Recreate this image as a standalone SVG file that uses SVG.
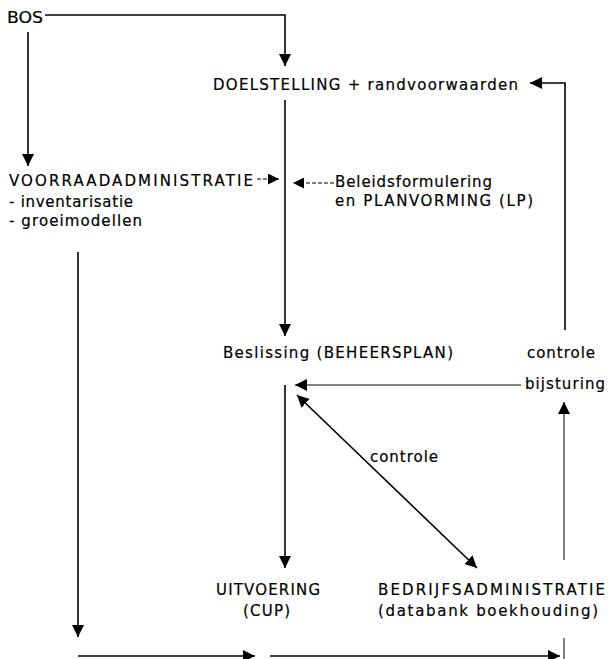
<svg xmlns="http://www.w3.org/2000/svg" width="608" height="659" viewBox="0 0 608 659">
<style>
text { font-family: "DejaVu Sans", "Liberation Sans", sans-serif; font-size: 15px; fill: #000; stroke: #000; stroke-width: 0.2; }
.ln { fill: none; stroke: #000; stroke-width: 1.6; }
.thin { fill: none; stroke: #000; stroke-width: 1; }
.dash { fill: none; stroke: #000; stroke-width: 1.2; stroke-dasharray: 4 2; }
</style>
<defs>
<marker id="ah" viewBox="0 0 12 12" refX="12" refY="6" markerWidth="12" markerHeight="12" markerUnits="userSpaceOnUse" orient="auto-start-reverse">
<path d="M0,0 L12,6 L0,12 z" fill="#000"/>
</marker>
<marker id="ahs" viewBox="0 0 12 12" refX="12" refY="6" markerWidth="11" markerHeight="11" markerUnits="userSpaceOnUse" orient="auto">
<path d="M0,0 L12,6 L0,12 z" fill="#000"/>
</marker>
</defs>
<g id="bos"><text x="7" y="23" textLength="36" lengthAdjust="spacingAndGlyphs">BOS</text></g>
<g id="doelstelling"><text x="213" y="90" textLength="305" lengthAdjust="spacing">DOELSTELLING + randvoorwaarden</text></g>
<g id="voorraad">
<text x="9" y="186" textLength="244" lengthAdjust="spacing">VOORRAADADMINISTRATIE</text>
<text x="9" y="207" textLength="124" lengthAdjust="spacing">- inventarisatie</text>
<text x="9" y="226" textLength="133" lengthAdjust="spacing">- groeimodellen</text>
</g>
<g id="beleid">
<text x="335" y="187" textLength="157" lengthAdjust="spacing">Beleidsformulering</text>
<text x="335" y="206" textLength="198" lengthAdjust="spacing">en PLANVORMING (LP)</text>
</g>
<g id="beslissing"><text x="223" y="358" textLength="230" lengthAdjust="spacing">Beslissing (BEHEERSPLAN)</text></g>
<g id="controle1"><text x="527" y="358" textLength="68" lengthAdjust="spacing">controle</text></g>
<g id="bijsturing"><text x="525" y="389" textLength="80" lengthAdjust="spacing">bijsturing</text></g>
<g id="controle2"><text x="370" y="462" textLength="68" lengthAdjust="spacing">controle</text></g>
<g id="uitvoering">
<text x="216" y="595" textLength="104" lengthAdjust="spacing">UITVOERING</text>
<text x="243" y="616" textLength="47" lengthAdjust="spacing">(CUP)</text>
</g>
<g id="bedrijf">
<text x="378" y="595" textLength="227" lengthAdjust="spacing">BEDRIJFSADMINISTRATIE</text>
<text x="378" y="616" textLength="220" lengthAdjust="spacing">(databank boekhouding)</text>
</g>
<g id="connectors">
<path class="ln" d="M45,15 H285 V66" marker-end="url(#ah)"/>
<path class="ln" d="M28,32 V166" marker-end="url(#ah)"/>
<path class="ln" d="M285,100 V336" marker-end="url(#ah)"/>
<path class="dash" d="M257,179 H279" marker-end="url(#ahs)"/>
<path class="dash" d="M334,183 H293" marker-end="url(#ahs)"/>
<path class="ln" d="M565,330 V83 H530" marker-end="url(#ah)"/>
<path class="thin" d="M521,385 H295" marker-end="url(#ah)"/>
<path class="ln" d="M285,385 V568" marker-end="url(#ah)"/>
<path class="ln" d="M297,395 L477,568" marker-start="url(#ah)" marker-end="url(#ah)"/>
<path class="thin" d="M564,560 V402" marker-end="url(#ah)"/>
<path class="ln" d="M78,252 V637" marker-end="url(#ah)"/>
<path class="ln" d="M78,656 H255" marker-end="url(#ah)"/>
<path class="ln" d="M270,656 H560" marker-end="url(#ah)"/>
<path class="thin" d="M564,638 V659"/>
</g>
</svg>
